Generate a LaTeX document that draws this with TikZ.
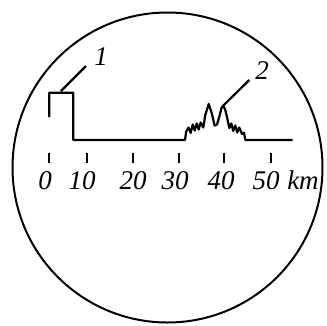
\documentclass[tikz,border=0pt]{standalone}
\usepackage{fontspec}
\setmainfont{Liberation Serif}
\begin{document}
\begin{tikzpicture}[x=1pt,y=-1pt,
  thick line/.style={line width=2.2pt,line join=round},
  tickmark/.style={line width=2pt},
  lbl/.style={font=\fontsize{27}{27}\selectfont\itshape,inner sep=0pt}]
\useasboundingbox (0,0) rectangle (327,325);
\node[circle,draw,line width=2pt,minimum size=310pt,inner sep=0pt] (scope) at (167.5,167.5) {};
% signal trace
\draw[thick line] (49.3,117) -- (49.3,92.7) -- (73.3,92.7) -- (73.3,140) -- (185,140)
  -- (186.2,131.5) -- (188.5,127.5) -- (190.7,133) -- (192.7,124.5) -- (194.7,130.5)
  -- (196.7,123.5) -- (198.7,129.5) -- (200.7,122.5) -- (203.3,127.5) -- (205.3,115)
  -- (208.7,104) -- (212,114) -- (214.5,125.5) -- (217,124.5)
  -- (219.3,116.7) -- (221.5,108) -- (223.3,105.5) -- (225.3,110) -- (227.3,118.3)
  -- (229.3,128) -- (231.3,123.5) -- (233.3,131) -- (235.3,125.5) -- (237.3,132.5)
  -- (239.3,127.5) -- (242,134) -- (244,132.7) -- (245.3,140) -- (292.7,140);
% leaders and labels
\coordinate (p1) at (61,91);
\coordinate (e1) at (86,66);
\node[lbl] (l1) at (101,57) {1};
\draw[thick line] (p1) -- (e1);
\coordinate (p2) at (223.3,105.5);
\coordinate (e2) at (249.3,80);
\node[lbl] (l2) at (262,71) {2};
\draw[thick line] (p2) -- (e2);
% ticks and scale labels
\foreach \x/\t/\lx [count=\i] in {49.3/0/45, 86.7/10/82, 133.3/20/133, 179.3/30/175, 224.3/40/221, 270.7/50/266} {
  \coordinate (ta\i) at (\x,152.7);
  \coordinate (tb\i) at (\x,163.3);
  \draw[tickmark] (ta\i) -- (tb\i);
  \node[lbl] (s\i) at (\lx,180.5) {\t};
}
\node[lbl] (km) at (303,180.5) {km};
\end{tikzpicture}
\end{document}
